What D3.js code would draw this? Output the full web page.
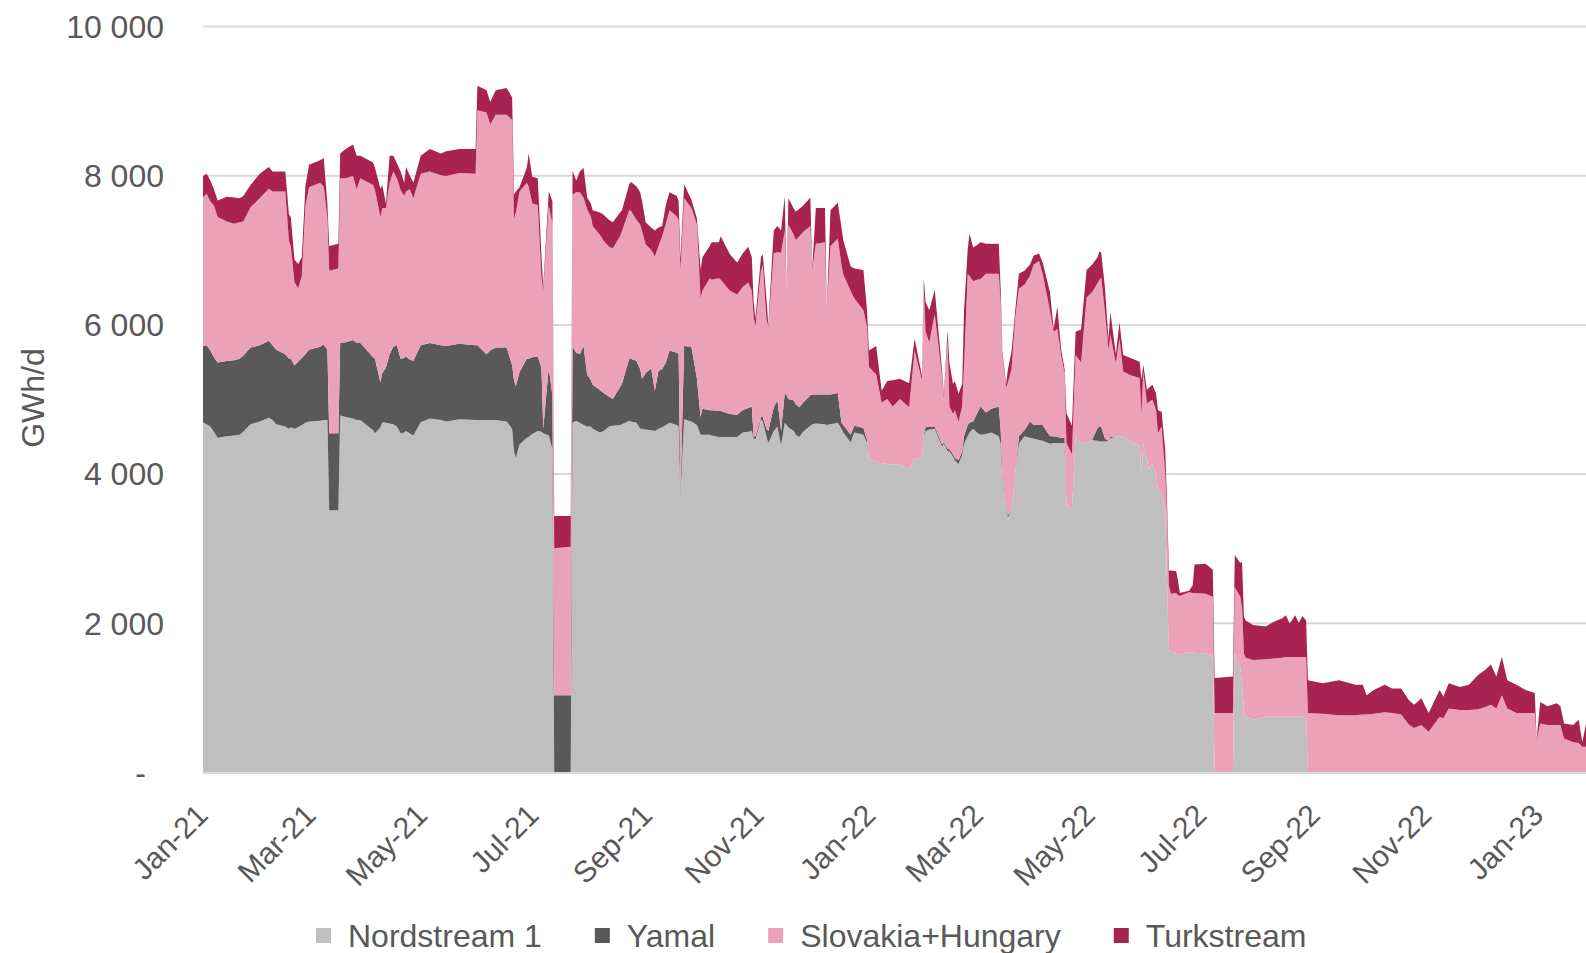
<!DOCTYPE html>
<html lang="en">
<head>
<meta charset="utf-8">
<script src="https://d3js.org/d3.v7.min.js"></script>
<style>
  body { margin: 0; background: #fff; }
  text { font-family: "Liberation Sans", Arial, sans-serif; fill: #595959; }
</style>
</head>
<body>
<div id="chart"></div>
<script>
// daily flows at the points where the shape changes (GWh/d)
const dates = [
  "2021-01-01","2021-01-03","2021-01-05","2021-01-07","2021-01-09","2021-01-14","2021-01-18","2021-01-21","2021-01-23","2021-01-27",
  "2021-02-01","2021-02-06","2021-02-08","2021-02-10","2021-02-15","2021-02-17","2021-02-18","2021-02-20","2021-02-22","2021-02-24","2021-02-26","2021-02-28",
  "2021-03-06","2021-03-08","2021-03-10","2021-03-11","2021-03-16","2021-03-17","2021-03-20","2021-03-24","2021-03-26","2021-03-28",
  "2021-04-04","2021-04-05","2021-04-08","2021-04-09","2021-04-11","2021-04-13","2021-04-15","2021-04-17","2021-04-19","2021-04-21","2021-04-22","2021-04-24","2021-04-26","2021-04-30",
  "2021-05-05","2021-05-11","2021-05-14","2021-05-21","2021-05-30","2021-05-31",
  "2021-06-05","2021-06-07","2021-06-10","2021-06-16","2021-06-19","2021-06-20","2021-06-21","2021-06-23","2021-06-27","2021-06-28","2021-06-30",
  "2021-07-03","2021-07-05","2021-07-06","2021-07-09","2021-07-11","2021-07-12","2021-07-21","2021-07-22","2021-07-24","2021-07-26","2021-07-28","2021-07-30",
  "2021-08-01","2021-08-02","2021-08-06","2021-08-08","2021-08-11","2021-08-13","2021-08-17","2021-08-18","2021-08-22","2021-08-23","2021-08-26","2021-08-28","2021-08-29","2021-08-31",
  "2021-09-03","2021-09-05","2021-09-07","2021-09-09","2021-09-11","2021-09-13","2021-09-17","2021-09-18","2021-09-19","2021-09-21","2021-09-25","2021-09-28","2021-09-30",
  "2021-10-01","2021-10-05","2021-10-06","2021-10-10","2021-10-11","2021-10-16","2021-10-20","2021-10-23","2021-10-26","2021-10-28","2021-10-29","2021-10-30",
  "2021-11-02","2021-11-03","2021-11-05","2021-11-06","2021-11-09","2021-11-11","2021-11-13","2021-11-15","2021-11-16","2021-11-17","2021-11-20","2021-11-21","2021-11-23","2021-11-25","2021-11-29","2021-11-30",
  "2021-12-02","2021-12-07","2021-12-08","2021-12-10","2021-12-14","2021-12-16","2021-12-17","2021-12-21","2021-12-23","2021-12-28","2021-12-30","2021-12-31",
  "2022-01-04","2022-01-07","2022-01-10","2022-01-13","2022-01-17","2022-01-22","2022-01-25","2022-01-29","2022-01-30","2022-01-31",
  "2022-02-02","2022-02-05","2022-02-09","2022-02-10","2022-02-12","2022-02-13","2022-02-15","2022-02-16","2022-02-18","2022-02-20","2022-02-21","2022-02-23","2022-02-24","2022-02-26","2022-02-28",
  "2022-03-02","2022-03-05","2022-03-08","2022-03-12","2022-03-13","2022-03-14","2022-03-16","2022-03-17","2022-03-19","2022-03-21","2022-03-23","2022-03-26","2022-03-29","2022-03-31",
  "2022-04-03","2022-04-05","2022-04-09","2022-04-11","2022-04-13","2022-04-15","2022-04-17","2022-04-18","2022-04-21","2022-04-23","2022-04-26","2022-04-29",
  "2022-05-02","2022-05-05","2022-05-06","2022-05-07","2022-05-09","2022-05-11","2022-05-12","2022-05-15","2022-05-17","2022-05-19","2022-05-23","2022-05-28","2022-05-29","2022-05-30",
  "2022-06-01","2022-06-02","2022-06-04","2022-06-06","2022-06-07","2022-06-09","2022-06-11","2022-06-12","2022-06-13","2022-06-14","2022-06-17","2022-06-18","2022-06-19","2022-06-24","2022-06-26","2022-06-27",
  "2022-07-03","2022-07-07","2022-07-08","2022-07-18","2022-07-19","2022-07-22","2022-07-23","2022-07-24","2022-07-25","2022-07-29",
  "2022-08-05","2022-08-09","2022-08-14","2022-08-16","2022-08-18","2022-08-21","2022-08-23","2022-08-25","2022-08-27","2022-08-28",
  "2022-09-05","2022-09-14","2022-09-23","2022-09-27","2022-09-29",
  "2022-10-03","2022-10-09","2022-10-13","2022-10-18","2022-10-22","2022-10-25","2022-10-29",
  "2022-11-02","2022-11-08","2022-11-10","2022-11-13","2022-11-19","2022-11-24","2022-11-29",
  "2022-12-03","2022-12-06","2022-12-09","2022-12-12","2022-12-15","2022-12-20","2022-12-25","2022-12-30","2022-12-31",
  "2023-01-02","2023-01-06","2023-01-11","2023-01-13","2023-01-15","2023-01-20","2023-01-23","2023-01-25","2023-01-27"
];

const nordstream = [
  4690,4660,4630,4560,4480,4500,4510,4520,4560,4660,
  4700,4750,4720,4660,4630,4600,4620,4600,4620,4650,4680,4700,
  4710,4720,4720,3510,3510,4780,4760,4740,4720,4720,
  4580,4540,4620,4690,4680,4670,4660,4630,4540,4550,4570,4540,4510,4690,
  4740,4720,4700,4730,4720,4720,
  4720,4720,4720,4700,4600,4300,4210,4390,4480,4490,4530,
  4570,4560,4540,4510,4330,0,0,4680,4710,4680,4650,4630,
  4630,4600,4550,4570,4630,4640,4650,4660,4710,4700,4680,4600,4600,4590,
  4580,4570,4600,4620,4650,4680,4650,4630,3710,4730,4700,4650,4520,
  4520,4520,4510,4490,4490,4490,4490,4550,4560,4570,4470,4460,
  4730,4700,4500,4410,4570,4630,4380,4680,4650,4620,4570,4520,4490,4560,4640,4660,
  4670,4660,4650,4660,4680,4600,4550,4420,4550,4520,4410,4200,
  4160,4140,4130,4120,4120,4060,4200,4200,4500,4570,
  4590,4600,4360,4400,4300,4300,4230,4180,4130,4250,4400,4500,4550,4600,4550,
  4520,4530,4550,4500,4400,3960,3500,3410,3510,4010,4400,4500,4480,4470,
  4450,4440,4400,4410,4410,4410,4410,3590,3510,4500,4400,4420,
  4450,4440,4430,4430,4430,4440,4470,4500,4500,4500,4430,4380,4000,4410,
  4200,4050,4140,4000,3780,3740,3500,2500,1640,1610,1600,1580,1570,1610,1600,1600,
  1590,1570,0,0,1590,1410,1200,800,740,700,
  740,740,740,740,740,740,740,740,740,0,
  0,0,0,0,0,
  0,0,0,0,0,0,0,
  0,0,0,0,0,0,0,
  0,0,0,0,0,0,0,0,0,
  0,0,0,0,0,0,0,0,0
];

const yamal = [
  1020,1060,1020,1000,1010,1010,1010,1020,1020,1030,
  1020,1030,1000,1000,970,940,920,850,880,900,920,960,
  990,1010,940,1030,1030,970,1000,1050,1030,1030,
  980,1000,600,660,740,930,1040,1090,1000,1000,1000,990,1000,1030,
  1010,1000,1010,1010,1000,1000,
  880,930,970,990,850,950,960,970,1060,1050,1030,
  1000,860,60,910,720,1030,1030,1020,910,920,1060,700,
  620,590,570,510,400,360,510,540,830,840,830,800,670,760,
  830,540,780,780,840,970,970,970,30,980,1000,620,240,
  350,330,340,350,350,310,300,300,320,330,30,40,
  30,60,100,160,320,350,190,400,400,380,410,410,400,390,410,400,
  390,400,410,400,400,80,100,100,90,90,40,0,
  0,0,0,0,0,0,0,0,20,50,
  40,30,30,20,30,30,30,30,50,50,100,150,130,100,250,
  380,290,320,400,200,40,20,30,0,0,100,80,220,180,
  200,210,100,90,80,70,70,0,0,0,0,0,
  0,170,200,200,40,0,20,0,0,0,0,0,0,0,
  0,0,0,0,0,0,0,0,0,0,0,0,0,0,0,0,
  0,0,0,0,0,0,0,0,0,0,
  0,0,0,0,0,0,0,0,0,0,
  0,0,0,0,0,
  0,0,0,0,0,0,0,
  0,0,0,0,0,0,0,
  0,0,0,0,0,0,0,0,0,
  0,0,0,0,0,0,0,0,0
];

const slovakiaHungary = [
  1990,2030,2000,2030,1950,1870,1830,1830,1800,1880,
  1970,2040,2060,2120,2180,1570,1510,1120,980,1100,1990,2180,
  2200,2120,1760,2180,2210,2210,2200,2200,2060,2210,
  2310,2260,2220,2210,2140,2300,2350,2240,2260,2170,2210,2280,2180,2300,
  2300,2280,2280,2290,2300,3150,
  3240,3030,3120,3120,3290,2160,2330,2420,2360,2310,2060,
  2030,1210,1850,2180,2300,1970,1990,2040,2150,2170,1990,2210,
  2200,2130,2080,2040,2010,2020,2020,2050,1990,1980,1890,1940,1980,1720,
  1590,1800,1670,1780,1860,1880,1830,1800,2980,1980,1860,2070,1590,
  1580,1770,1750,1780,1760,1650,1610,1650,1680,1550,1600,1470,
  1960,2040,1480,1400,2060,1990,2390,2180,1390,2340,2220,2200,2290,2290,2270,1660,
  2020,2040,1130,1990,2070,2120,2020,1930,1710,1580,1520,1230,
  1170,810,870,780,880,830,1450,1050,1980,1280,
  1130,1510,910,580,1470,570,540,640,520,600,940,2030,1970,1880,1800,
  1710,1860,1810,1780,1700,1600,1630,1780,1890,2080,1980,1950,1950,2150,
  2200,2030,1680,1400,1450,1120,860,820,750,1090,1090,1940,
  1980,1940,1970,2000,1710,1220,1370,980,1310,870,890,900,800,960,
  740,910,850,850,760,890,500,920,860,780,800,790,790,800,800,800,
  800,780,790,790,890,940,1000,790,790,800,
  770,780,790,800,800,800,800,800,800,790,
  780,760,760,770,770,
  780,800,790,770,640,590,630,
  540,740,720,850,830,830,840,
  870,900,850,1030,850,790,790,790,430,
  650,630,630,630,450,400,390,340,340
];

const turkstream = [
  290,270,280,220,220,330,350,320,340,300,
  330,290,270,270,270,360,390,300,330,250,270,300,
  300,380,190,330,330,330,390,420,450,300,
  300,300,380,310,60,360,210,200,250,180,330,190,210,240,
  300,290,330,320,330,330,
  300,300,330,360,300,330,280,60,200,440,360,
  360,300,60,180,300,430,410,320,160,280,400,160,
  170,210,300,350,360,350,320,280,350,390,450,430,400,300,
  300,350,250,140,250,240,270,250,160,190,110,80,380,
  450,430,500,480,580,490,430,450,480,450,200,110,
  180,140,270,30,310,350,300,460,10,350,350,380,370,350,380,20,
  480,460,10,480,480,500,460,330,400,540,220,220,
  380,160,240,350,270,320,160,60,120,400,
  430,320,80,60,120,590,400,390,370,300,740,320,570,450,460,
  490,400,400,400,200,40,50,180,240,100,200,190,150,120,
  100,150,250,40,300,80,60,400,380,310,440,370,
  370,350,380,330,320,130,310,120,220,220,230,220,450,90,
  180,190,200,220,310,200,310,180,200,310,290,190,40,20,100,380,
  400,360,470,490,430,450,620,490,500,470,
  440,490,530,560,450,560,460,550,490,440,
  410,470,410,400,260,
  320,370,330,350,330,310,360,
  250,360,290,340,310,340,460,
  500,540,430,510,380,380,310,270,10,
  290,250,290,250,200,230,310,60,310
];

const seriesNames = ["Nordstream 1", "Yamal", "Slovakia+Hungary", "Turkstream"];
const seriesColors = ["#bfbfbf", "#595959", "#eba2b9", "#a92352"];
const yTicks = [0, 2000, 4000, 6000, 8000, 10000];
const xTicks = ["2021-01-01","2021-03-01","2021-05-01","2021-07-01","2021-09-01","2021-11-01",
                "2022-01-01","2022-03-01","2022-05-01","2022-07-01","2022-09-01","2022-11-01","2023-01-01"];

var width = 1586, height = 953,
    plotLeft = 203, plotRight = 1586, plotTop = 26, plotBottom = 772;

var parse = d3.utcParse("%Y-%m-%d");

var rows = dates.map(function(d, i) {
  return {
    date: parse(d),
    "Nordstream 1": nordstream[i],
    "Yamal": yamal[i],
    "Slovakia+Hungary": slovakiaHungary[i],
    "Turkstream": turkstream[i]
  };
});

var x = d3.scaleUtc()
  .domain([parse("2021-01-01"), parse("2023-01-27")])
  .range([plotLeft, plotRight]);

var y = d3.scaleLinear()
  .domain([0, 10000])
  .range([plotBottom, plotTop]);

var color = d3.scaleOrdinal().domain(seriesNames).range(seriesColors);

var svg = d3.select("#chart").append("svg")
  .attr("width", width)
  .attr("height", height)
  .style("display", "block");

svg.append("rect").attr("width", width).attr("height", height).attr("fill", "#fff");

// y axis with gridlines
var nf = d3.formatLocale({decimal: ",", thousands: " ", grouping: [3], currency: ["", ""]}).format(",");

var yAxis = svg.append("g")
  .attr("transform", "translate(" + plotLeft + ",0)")
  .call(d3.axisLeft(y)
    .tickValues(yTicks)
    .tickSize(-(plotRight - plotLeft))
    .tickPadding(39)
    .tickFormat(function(d) { return d === 0 ? "-" : nf(d); }));

yAxis.select(".domain").remove();
yAxis.selectAll(".tick line").attr("stroke", "#d9d9d9").attr("stroke-width", 2);
yAxis.selectAll(".tick text")
  .style("font-size", "32px")
  .attr("fill", "#595959")
  .attr("dy", "0.35em")
  .attr("dx", function(d) { return d === 0 ? -18 : 0; });

// stacked areas
var stack = d3.stack().keys(seriesNames);
var layers = stack(rows);

var area = d3.area()
  .x(function(d) { return x(d.data.date); })
  .y0(function(d) { return y(d[0]); })
  .y1(function(d) { return y(d[1]); });

svg.append("clipPath").attr("id", "plot")
  .append("rect").attr("x", plotLeft).attr("y", 0).attr("width", plotRight - plotLeft).attr("height", plotBottom);

svg.append("g")
  .attr("clip-path", "url(#plot)")
  .selectAll("path")
  .data(layers)
  .enter()
  .append("path")
  .attr("d", area)
  .attr("fill", function(d) { return color(d.key); });

// x axis line
svg.append("line")
  .attr("x1", plotLeft).attr("x2", plotRight)
  .attr("y1", plotBottom + 1).attr("y2", plotBottom + 1)
  .attr("stroke", "#d9d9d9")
  .attr("stroke-width", 2);

// x axis labels, rotated
var xAxis = svg.append("g")
  .attr("transform", "translate(0," + plotBottom + ")")
  .call(d3.axisBottom(x)
    .tickValues(xTicks.map(parse))
    .tickSize(0)
    .tickFormat(d3.utcFormat("%b-%y")));

xAxis.select(".domain").remove();
xAxis.selectAll(".tick text")
  .attr("x", 0).attr("y", 0).attr("dy", 0)
  .attr("text-anchor", "end")
  .attr("fill", "#595959")
  .style("font-size", "30px")
  .attr("transform", "translate(6,45) rotate(-45)");

// y title
svg.append("text")
  .attr("transform", "translate(44,398) rotate(-90)")
  .attr("text-anchor", "middle")
  .style("font-size", "32px")
  .text("GWh/d");

// legend
var legend = svg.append("g");
var lx = 316;
seriesNames.forEach(function(name) {
  legend.append("rect")
    .attr("x", lx).attr("y", 928)
    .attr("width", 15).attr("height", 15)
    .attr("fill", color(name));
  var t = legend.append("text")
    .attr("x", lx + 32).attr("y", 947)
    .style("font-size", "32px")
    .text(name);
  lx = lx + 32 + t.node().getComputedTextLength() + 53;
});
</script>
</body>
</html>
